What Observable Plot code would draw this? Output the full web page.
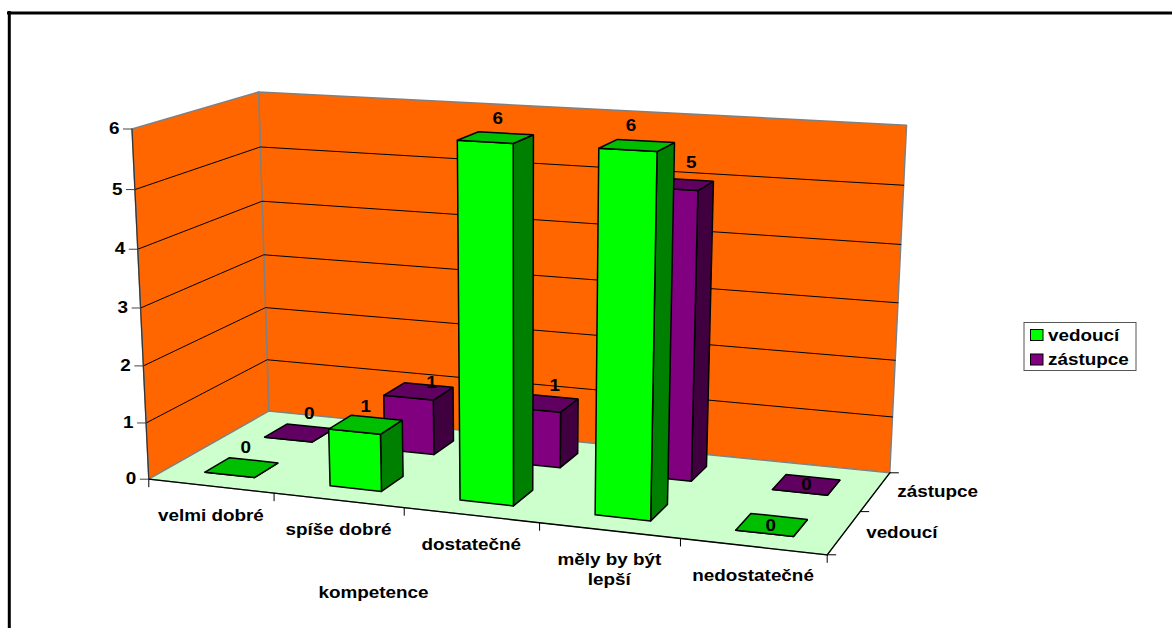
<!DOCTYPE html>
<html>
<head>
<meta charset="utf-8">
<style>html,body{margin:0;padding:0;background:#fff}svg{display:block}</style>
<script src="https://cdn.jsdelivr.net/npm/d3@7"></script>
<script src="https://cdn.jsdelivr.net/npm/@observablehq/plot@0.6"></script>
</head>
<body>
<div id="chart"></div>
<script>
// --- data ---
const categories = ["velmi dobré", "spíše dobré", "dostatečné", "měly by být\nlepší", "nedostatečné"];
const seriesNames = ["vedoucí", "zástupce"];
const vedouci = [0, 1, 6, 6, 0];
const zastupce = [0, 1, 1, 5, 0];
const valueTicks = [0, 1, 2, 3, 4, 5, 6];
const axisTitle = "kompetence";

// --- styles ---
const colors = {
  "vedoucí": {front: "#00FF00", top: "#00BE00", side: "#008000"},
  "zástupce": {front: "#800080", top: "#600060", side: "#400040"}
};
const W = 1172, H = 628;
const font = {fontFamily: "Liberation Sans, Arial, sans-serif", fontWeight: "bold", fontSize: 16, fill: "#000"};
// hand placement of the value labels, per series and category (pixels)
const labelNudge = [
  {dx: [4, 0, 2, -6, -1], dy: [-20, -18, -19, -20, 1]},
  {dx: [10, 13, 11, 13, 0], dy: [-19, -8, -17, -21, 0]}
];

// --- perspective camera fitted to the plot box corners ---
const FL = [148.3, 478.7], FR = [826.7, 554.3], BR = [889.3, 472.3], BL = [268.3, 410.7];
const FLtop = [131.3, 128.3], BLtop = [258.3, 91.3], BRtop = [906, 125];
const nCat = categories.length, nSer = seriesNames.length, zMax = 6;
const dx1 = FR[0] - BR[0], dx2 = BL[0] - BR[0], sx = FL[0] - FR[0] + BR[0] - BL[0];
const dy1 = FR[1] - BR[1], dy2 = BL[1] - BR[1], sy = FL[1] - FR[1] + BR[1] - BL[1];
const den = dx1 * dy2 - dx2 * dy1;
const mg = (sx * dy2 - dx2 * sy) / den, mh = (dx1 * sy - sx * dy1) / den;
const ma = FR[0] - FL[0] + mg * FR[0], mb = BL[0] - FL[0] + mh * BL[0], mc = FL[0];
const md = FR[1] - FL[1] + mg * FR[1], me = BL[1] - FL[1] + mh * BL[1], mf = FL[1];
function fitVertical() {
  const anchors = [[0, 0, FLtop], [0, 1, BLtop], [1, 1, BRtop]];
  const A = [[0,0,0,0],[0,0,0,0],[0,0,0,0]];
  const add = (row, rhs) => { for (let i = 0; i < 3; i++) { for (let j = 0; j < 3; j++) A[i][j] += row[i] * row[j]; A[i][3] += row[i] * rhs; } };
  for (const [s, t, [px, py]] of anchors) {
    const w = mg * s + mh * t + 1;
    add([1, 0, -px], px * w - (ma * s + mb * t + mc));
    add([0, 1, -py], py * w - (md * s + me * t + mf));
  }
  for (let i = 0; i < 3; i++) {
    for (let r = 0; r < 3; r++) if (r !== i) {
      const m = A[r][i] / A[i][i];
      for (let k = i; k < 4; k++) A[r][k] -= m * A[i][k];
    }
  }
  return [A[0][3] / A[0][0], A[1][3] / A[1][1], A[2][3] / A[2][2]];
}
const [kx, ky, kw] = fitVertical();
function project(u, v, z) {
  const s = u / nCat, t = v / nSer, q = z / zMax;
  const w = mg * s + mh * t + 1 + q * kw;
  return [(ma * s + mb * t + mc + q * kx) / w, (md * s + me * t + mf + q * ky) / w];
}
const X = d => project(d.u, d.v, d.z)[0];
const Y = d => project(d.u, d.v, d.z)[1];
const poly = (key, pts) => pts.map(([u, v, z]) => ({key, u, v, z}));

// --- walls and floor ---
const backWall = poly("back", [[0,nSer,0],[nCat,nSer,0],[nCat,nSer,zMax],[0,nSer,zMax],[0,nSer,0]]);
const leftWall = poly("left", [[0,0,0],[0,nSer,0],[0,nSer,zMax],[0,0,zMax],[0,0,0]]);
const floorPlane = poly("floor", [[0,0,0],[nCat,0,0],[nCat,nSer,0],[0,nSer,0],[0,0,0]]);
const grid = valueTicks.slice(1, -1).flatMap(z => poly("g" + z, [[0,0,z],[0,nSer,z],[nCat,nSer,z]]));
const frontEdges = poly("edge", [[0,0,0],[nCat,0,0],[nCat,nSer,0]]);
const valueAxisEdge = poly("axis", [[0,0,0],[0,0,zMax]]);

// --- bars ---
const inset = 0.3;
function faces(values, sIdx) {
  const out = {front: [], top: [], side: []};
  values.forEach((val, i) => {
    const u0 = i + inset, u1 = i + 1 - inset, v0 = sIdx + inset, v1 = sIdx + 1 - inset;
    out.front.push(...poly(i, [[u0,v0,0],[u1,v0,0],[u1,v0,val],[u0,v0,val],[u0,v0,0]]));
    out.side.push(...poly(i, [[u1,v0,0],[u1,v1,0],[u1,v1,val],[u1,v0,val],[u1,v0,0]]));
    out.top.push(...poly(i, [[u0,v0,val],[u1,v0,val],[u1,v1,val],[u0,v1,val],[u0,v0,val]]));
  });
  return out;
}
const barMarks = (values, sIdx) => {
  const fc = faces(values, sIdx), col = colors[seriesNames[sIdx]];
  const opt = {x: X, y: Y, z: "key", stroke: "#000", strokeWidth: 1.5, strokeLinejoin: "miter"};
  return [
    Plot.line(fc.side, {...opt, fill: col.side}),
    Plot.line(fc.front, {...opt, fill: col.front}),
    Plot.line(fc.top, {...opt, fill: col.top})
  ];
};

// --- labels ---
const valueLabels = [vedouci, zastupce].flatMap((vals, s) => vals.map((value, i) => ({
  value, u: i + 0.5, v: s + 0.5, z: value, nx: labelNudge[s].dx[i], ny: labelNudge[s].dy[i]
})));
const catLabels = categories.map((label, i) => ({label, u: i + 0.5, v: 0, z: 0}));
const serLabels = seriesNames.map((label, s) => ({label, u: nCat, v: s + 0.5, z: 0}));
const zLabels = valueTicks.map(z => ({label: z, u: 0, v: 0, z}));
const catTicks = d3.range(nCat + 1).map(i => ({u: i, v: 0, z: 0}));
const serTicks = d3.range(nSer + 1).map(s => ({u: nCat, v: s, z: 0}));

// --- legend (chart-level layout) ---
const legendBox = {x1: 1024, x2: 1136, y1: 322.5, y2: 370.5};
const legendRows = seriesNames.map((name, i) => ({name, y: 335 + i * 24.5}));

const plot = Plot.plot({
  width: W, height: H, margin: 0,
  x: {domain: [0, W], range: [0, W], axis: null},
  y: {domain: [0, H], range: [0, H], axis: null},
  style: {background: "#fff"},
  marks: [
    // frame: top and left only
    Plot.ruleY([12.5], {x1: 7, x2: W, stroke: "#000", strokeWidth: 3}),
    Plot.ruleX([8.8], {y1: 11, y2: H, stroke: "#000", strokeWidth: 3}),
    // walls
    Plot.line(backWall, {x: X, y: Y, z: "key", fill: "#FF6600", stroke: "#808080", strokeWidth: 1.5}),
    Plot.line(leftWall, {x: X, y: Y, z: "key", fill: "#FF6600", stroke: "#808080", strokeWidth: 1.5}),
    Plot.line(floorPlane, {x: X, y: Y, z: "key", fill: "#CCFFCC", stroke: "#808080", strokeWidth: 1.2}),
    Plot.line(grid, {x: X, y: Y, z: "key", stroke: "#000", strokeWidth: 1}),
    Plot.line(valueAxisEdge, {x: X, y: Y, z: "key", stroke: "#333", strokeWidth: 1.2}),
    Plot.line(frontEdges, {x: X, y: Y, z: "key", stroke: "#000", strokeWidth: 1.3}),
    // axis ticks
    Plot.link(catTicks, {x1: X, y1: Y, x2: X, y2: d => Y(d) + 8, stroke: "#000", strokeWidth: 1}),
    Plot.link(zLabels, {x1: X, y1: Y, x2: d => X(d) - 9, y2: Y, stroke: "#444", strokeWidth: 1}),
    Plot.link(serTicks, {x1: X, y1: Y, x2: d => X(d) + 9, y2: Y, stroke: "#000", strokeWidth: 1}),
    // bars: back series first
    ...barMarks(zastupce, 1),
    ...barMarks(vedouci, 0),
    // text
    Plot.text(valueLabels, {x: d => X(d) + d.nx, y: d => Y(d) + d.ny, text: "value", ...font}),
    Plot.text(zLabels, {x: X, y: Y, text: "label", dx: -12.5, textAnchor: "end", ...font}),
    Plot.text(catLabels, {x: X, y: Y, text: "label", dy: 20.5, lineAnchor: "top", lineHeight: 1.25, ...font}),
    Plot.text(serLabels, {x: X, y: Y, text: "label", dx: 22, textAnchor: "start", ...font}),
    Plot.text([axisTitle], {x: () => 373, y: () => 592, text: d => d, ...font}),
    // legend
    Plot.rect([legendBox], {x1: "x1", x2: "x2", y1: "y1", y2: "y2", fill: "#fff", stroke: "#555", strokeWidth: 1}),
    Plot.rect(legendRows, {x1: () => 1030.5, x2: () => 1043, y1: d => d.y - 5.5, y2: d => d.y + 5.5, fill: d => colors[d.name].front, stroke: "#000", strokeWidth: 1}),
    Plot.text(legendRows, {x: () => 1047.5, y: "y", text: "name", textAnchor: "start", ...font})
  ]
});
// Reference type is Arial-like bold stretched horizontally.
plot.querySelectorAll("text").forEach(t => {
  t.setAttribute("transform", (t.getAttribute("transform") || "") + " scale(1.18,1)");
});
document.getElementById("chart").appendChild(plot);
</script>
</body>
</html>
